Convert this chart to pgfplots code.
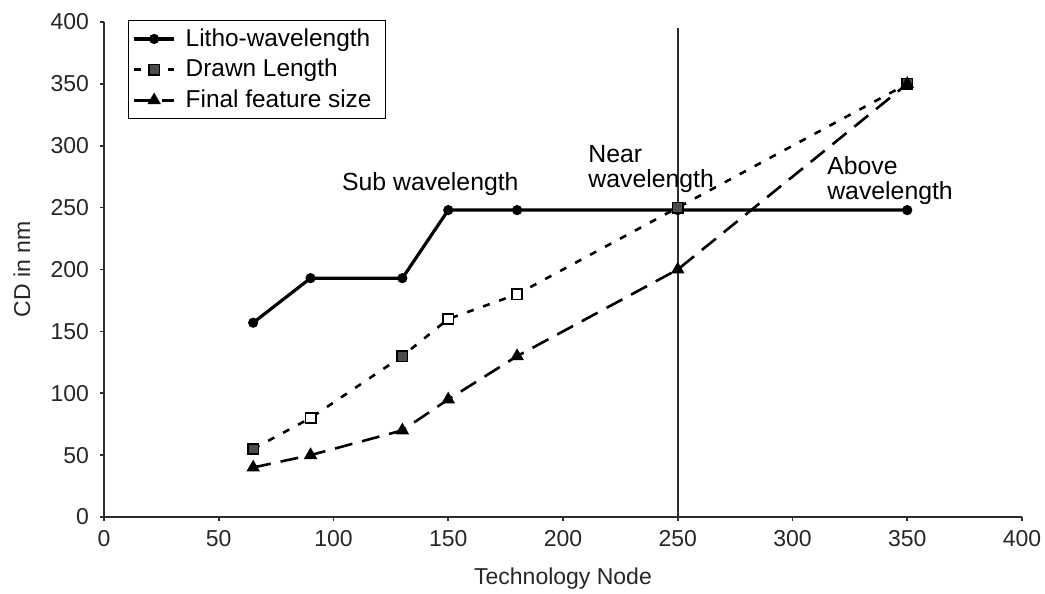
\documentclass[border=0pt]{standalone}
\usepackage{pgfplots}
\pgfplotsset{compat=1.18}
\usepackage{fontspec}
\setmainfont{Liberation Sans}
\definecolor{axgray}{RGB}{45,45,45}
\begin{document}
\begin{tikzpicture}
\begin{axis}[
  scale only axis, width=459pt, height=247.5pt,
  xmin=0, xmax=400, ymin=0, ymax=400,
  axis x line=bottom, axis y line=left,
  axis line style={-, line width=1pt, axgray},
  xtick={0,50,...,400}, ytick={0,50,...,400},
  tick align=outside, major tick length=2pt,
  tick style={axgray, line width=0.8pt},
  every tick label/.append style={font=\fontsize{11.5}{13}\selectfont, text=black!85},
  yticklabel style={xshift=-2pt},
  xticklabel style={yshift=-1pt},
  /pgf/number format/assume math mode=true,
  xlabel={Technology Node}, ylabel={CD in nm},
  xlabel style={at={(axis description cs:0.5,-0.1253)}, anchor=center, font=\fontsize{11.5}{13}\selectfont, text=black!85},
  ylabel style={at={(axis description cs:-0.0893,0.5)}, anchor=center, font=\fontsize{11.5}{13}\selectfont, text=black!85},
  legend style={at={(axis description cs:0.0261,1.004)}, anchor=north west, draw=black, line width=0.6pt,
    font=\fontsize{12.2}{14}\selectfont, inner xsep=2pt, inner ysep=2pt, row sep=1pt,
    nodes={inner xsep=5pt}},
  legend image code/.code={\draw[mark repeat=2,mark phase=2] plot coordinates {(0pt,0pt) (10pt,0pt) (20pt,0pt)};},
  legend cell align=left,
  clip=false,
]
\addplot[black, line width=1.6pt, mark=*, mark size=1.7pt] coordinates {
  (65,157) (90,193) (130,193) (150,248) (180,248) (250,248) (350,248)};
\addlegendentry{Litho-wavelength}
\addplot[black, line width=1.3pt, dash pattern=on 3.5pt off 5pt, mark=square*, mark size=2.6pt, mark options={solid, line width=0.8pt, fill=black!70}] coordinates {
  (65,55) (90,80) (130,130) (150,160) (180,180) (250,250) (350,350)};
\addlegendentry{Drawn Length}
\addplot[black, line width=1.3pt, dash pattern=on 9pt off 5pt, mark=triangle*, mark size=2.6pt, mark options={solid}] coordinates {
  (65,40) (90,50) (130,70) (150,95) (180,130) (250,200) (350,350)};
\addlegendentry{Final feature size}
\addplot[only marks, forget plot, mark=square*, mark size=2.6pt, mark options={black, line width=0.8pt, fill=white}] coordinates {
  (90,80) (150,160) (180,180)};
\addplot[axgray, line width=1pt, forget plot] coordinates {(250,0) (250,395)};
\node[font=\fontsize{12.4}{12.6}\selectfont, anchor=north, inner sep=0pt] at (axis cs:142.2,278.8) {Sub wavelength};
\node[font=\fontsize{12.4}{12.6}\selectfont, align=left, anchor=north west, inner sep=0pt] at (axis cs:210.9,300.6) {Near\\wavelength};
\node[font=\fontsize{12.4}{12.6}\selectfont, align=left, anchor=north west, inner sep=0pt] at (axis cs:315,291.7) {Above\\wavelength};
\end{axis}
\pgfresetboundingbox
\path (current axis.south west) ++(-52pt,-38.5pt) coordinate (bbA);
\path (current axis.south west) ++(470.5pt,258.5pt) coordinate (bbB);
\path[use as bounding box] (bbA) rectangle (bbB);
\end{tikzpicture}
\end{document}
